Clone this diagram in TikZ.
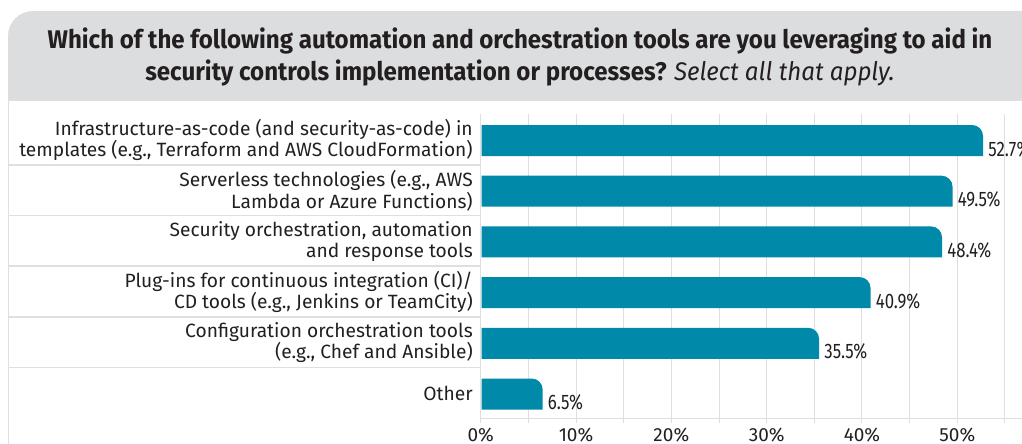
\documentclass[tikz,border=0pt]{standalone}
\usepackage{fontspec}
\setmainfont{Fira Sans}
\newfontfamily\titlefont[FakeStretch=0.945]{Fira Sans}
\newfontfamily\valuefont[FakeStretch=0.8]{Fira Sans}
\usepackage{xcolor}
\definecolor{barblue}{HTML}{0189AA}
\definecolor{headgray}{HTML}{DCDDDF}
\definecolor{gridgray}{HTML}{DFDFDF}
\definecolor{textdark}{HTML}{231F20}
\usetikzlibrary{calc}

\begin{document}
\begin{tikzpicture}[
                x = 1pt, % one unit per pixel
                y = -1pt, % rows counted downwards
                line cap = butt,
                semithick % line style
        ]

        \tikzstyle{every node}=[
            text = textdark,
            inner sep = 0pt
        ]
        \tikzstyle{titletext}=[align = center, font = \titlefont\bfseries\fontsize{25.5}{32}\selectfont]
        \tikzstyle{rowlabel}=[anchor = east, align = right, font = \fontsize{19.2}{21.5}\selectfont]
        \tikzstyle{valuelabel}=[anchor = base west, font = \valuefont\fontsize{21}{21}\selectfont]
        \tikzstyle{ticklabel}=[anchor = base, font = \fontsize{19}{19}\selectfont]
        \tikzstyle{gridline}=[draw = gridgray, line width = 1pt]
        \tikzstyle{sepline}=[draw = gridgray, line width = 1.5pt]

        \useasboundingbox (0,0) rectangle (1022,444);

        % header panel
        \fill[headgray] (8,100) -- (8,36) .. controls (8,22.2) and (19.2,11) .. (33,11) -- (1022,11) -- (1022,100) -- cycle;
        \draw[gridline] (8,444) -- (8,100) -- (1022,100);
        \node[titletext] (title) at (520,57) {Which of the following automation and orchestration tools are you leveraging to aid in\\
            security controls implementation or processes? {\mdseries\itshape Select all that apply.}};

        % grid
        \foreach \p in {5,10,...,55}
            \draw[gridline] (480.7+9.532*\p,114) -- (480.7+9.532*\p,423);
        \foreach \k in {1,...,5}
            \draw[sepline] (8,164.8+50.7*\k-50.7) -- (480.7,164.8+50.7*\k-50.7);

        % bars
        \foreach \val [count=\i] in {52.7,49.5,48.4,40.9,35.5,6.5} {
            \pgfmathsetmacro{\yc}{140.5+50.7*(\i-1)}
            \pgfmathsetmacro{\xe}{480.7+9.532*\val}
            \fill[barblue] (481.5,\yc+15.5) -- (481.5,\yc-15.5) -- (\xe-11,\yc-15.5)
                .. controls (\xe-4.9,\yc-15.5) and (\xe,\yc-10.6) .. (\xe,\yc-4.5) -- (\xe,\yc+15.5) -- cycle;
            \node[valuelabel] (V\i) at (\xe+5,\yc+15.5) {\val\%};
        }

        % axes
        \draw[gridline, line width = 1.5pt] (480.7,114) -- (480.7,423);
        \draw[gridline, line width = 1.5pt] (480.7,418.3) -- (1022,418.3);
        \foreach \p in {0,10,...,50}
            \node[ticklabel] (T\p) at (480.7+9.532*\p,441) {\p\%};

        % row labels
        \node[rowlabel] (L1) at (473,140) {Infrastructure-as-code (and security-as-code) in\\templates (e.g., Terraform and AWS CloudFormation)};
        \node[rowlabel] (L2) at (473,190.7) {Serverless technologies (e.g., AWS\\Lambda or Azure Functions)};
        \node[rowlabel] (L3) at (473,241.4) {Security orchestration, automation\\and response tools};
        \node[rowlabel] (L4) at (473,292.1) {Plug-ins for continuous integration (CI)/\\CD tools (e.g., Jenkins or TeamCity)};
        \node[rowlabel] (L5) at (473,342.8) {Configuration orchestration tools\\(e.g., Chef and Ansible)};
        \node[rowlabel] (L6) at (473,393.5) {Other};

        \end{tikzpicture}
\end{document}
